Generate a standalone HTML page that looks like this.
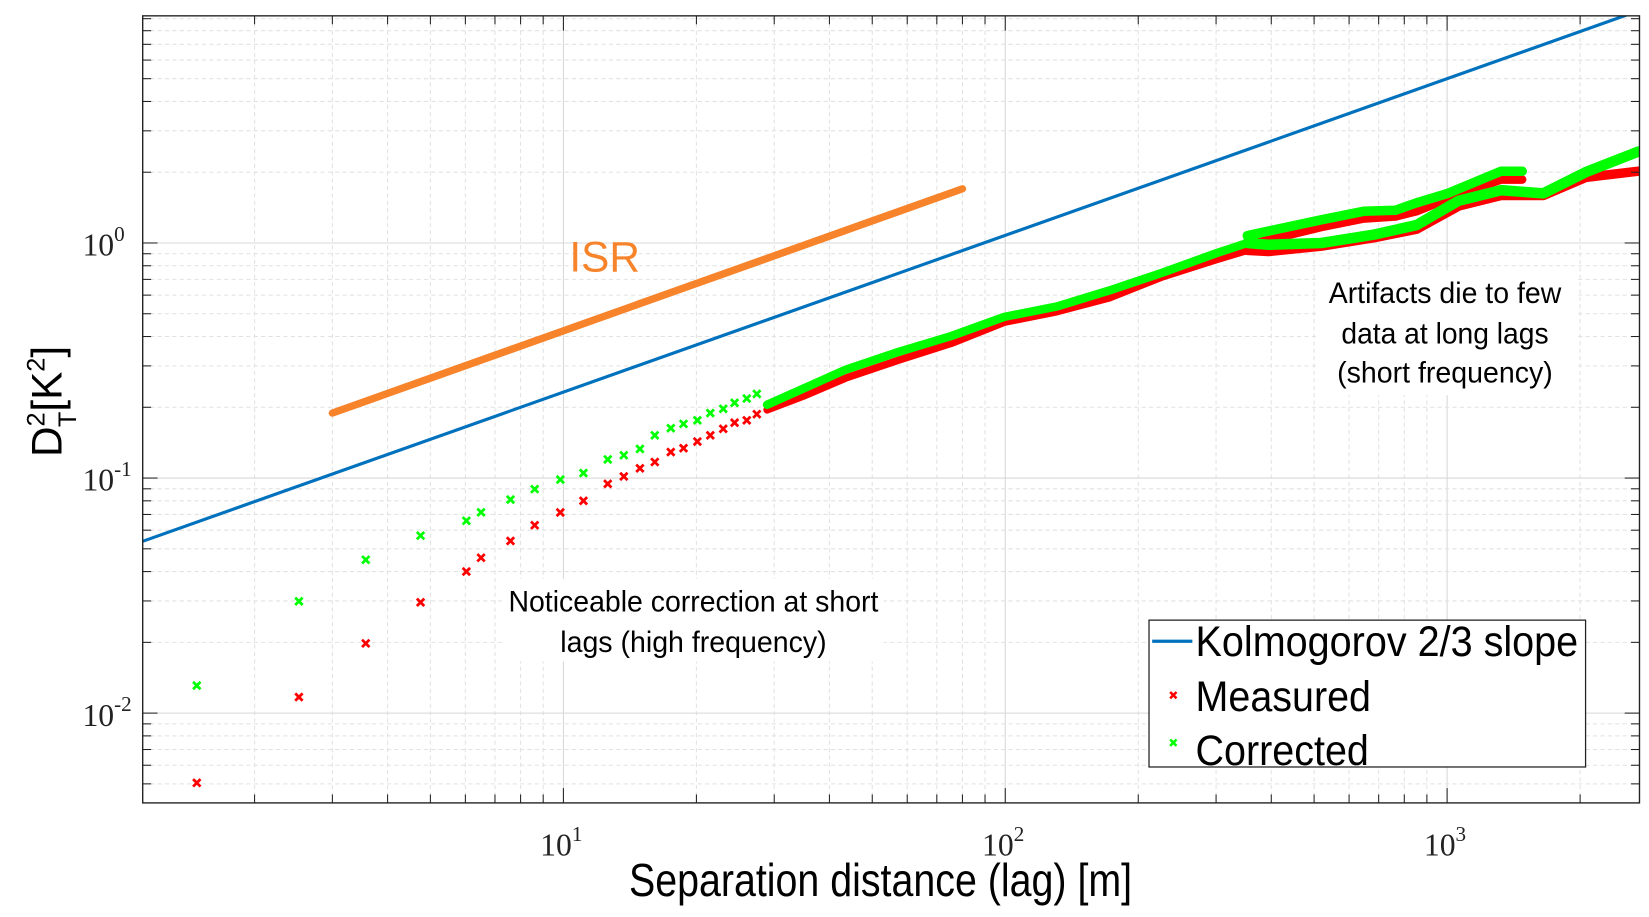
<!DOCTYPE html>
<html><head><meta charset="utf-8"><style>
html,body{margin:0;padding:0;background:#fff;}
svg{display:block;}
text{font-family:"Liberation Sans",sans-serif;}
.serif{font-family:"Liberation Serif",serif;}
</style></head><body>
<svg id="chart" width="1649" height="917" viewBox="0 0 1560 868" preserveAspectRatio="none" xmlns="http://www.w3.org/2000/svg">
<rect x="0" y="0" width="1560" height="868" fill="#fff"/>
<g id="grid"></g>
<g id="marks"></g>
<g id="axes"></g>
<rect x="135" y="15" width="1416" height="745" fill="none" stroke="#222" stroke-width="1.3"/>
<text x="572" y="257" font-size="40" fill="#f7832a" text-anchor="middle">ISR</text>
<rect x="1245" y="256" width="245" height="118" fill="#fff"/>
<g font-size="28" text-anchor="middle" fill="#000">
<text x="1367" y="287" textLength="220" lengthAdjust="spacingAndGlyphs">Artifacts die to few</text>
<text x="1367" y="325" textLength="196" lengthAdjust="spacingAndGlyphs">data at long lags</text>
<text x="1367" y="362" textLength="204" lengthAdjust="spacingAndGlyphs">(short frequency)</text>
</g>
<rect x="476" y="548" width="360" height="78" fill="#fff"/>
<g font-size="28" text-anchor="middle" fill="#000">
<text x="656" y="579" textLength="350" lengthAdjust="spacingAndGlyphs">Noticeable correction at short</text>
<text x="656" y="617" textLength="252" lengthAdjust="spacingAndGlyphs">lags (high frequency)</text>
</g>
<g>
<rect x="1087" y="587" width="413" height="139" fill="#fff" stroke="#222" stroke-width="1.2"/>
<line x1="1090" y1="607" x2="1128" y2="607" stroke="#0072bd" stroke-width="3"/>
<text x="1131" y="621" font-size="40" textLength="362" lengthAdjust="spacingAndGlyphs">Kolmogorov 2/3 slope</text>
<path d="M1107,655L1113,661M1113,655L1107,661" stroke="#ff0000" stroke-width="2.4"/>
<text x="1131" y="673" font-size="40" textLength="166" lengthAdjust="spacingAndGlyphs">Measured</text>
<path d="M1107,700L1113,706M1113,700L1107,706" stroke="#00ff00" stroke-width="2.4"/>
<text x="1131" y="724" font-size="40" textLength="164" lengthAdjust="spacingAndGlyphs">Corrected</text>
</g>
<text x="833" y="848" font-size="44" text-anchor="middle" textLength="476" lengthAdjust="spacingAndGlyphs">Separation distance (lag) [m]</text>
<g transform="translate(58,380) rotate(-90)">
<text x="0" y="0" font-size="40" text-anchor="middle">D<tspan font-size="24" dy="-16">2</tspan><tspan font-size="24" dx="-14" dy="30">T</tspan><tspan dy="-14">[K</tspan><tspan font-size="24" dy="-16">2</tspan><tspan dy="16">]</tspan></text>
</g>
</svg>
<script>
// ---- data ----
const xTickValues = [10, 100, 1000];
const xTickLabels = ["1", "2", "3"];
const yTickValues = [1, 0.1, 0.01];
const yTickLabels = ["0", "-1", "-2"];
const kolmogorovCoef = 0.05;
const isrLags = [3, 80];
const isrValues = [0.189, 1.70];
const sparseLags = [1.48,2.52,3.57,4.75,6.03,6.51,7.59,8.61,9.84,11.1,12.6,13.7,14.9,16.1,17.5,18.7,20.1,21.5,23.0,24.4,26.0,27.4];
const measuredSparse = [0.00505,0.0117,0.0198,0.0296,0.040,0.0458,0.054,0.063,0.0714,0.080,0.0945,0.1016,0.110,0.117,0.129,0.134,0.143,0.152,0.162,0.172,0.176,0.187];
const correctedSparse = [0.0131,0.0299,0.0449,0.0569,0.0658,0.0715,0.081,0.0897,0.0985,0.105,0.120,0.125,0.133,0.152,0.163,0.170,0.176,0.189,0.197,0.209,0.218,0.228];
const denseLags = [28.9,34.9,43.5,57.3,75.5,99.5,131,172,227,299,353];
const measuredDense = [0.195,0.223,0.266,0.317,0.374,0.460,0.510,0.584,0.718,0.847,0.930];
const correctedDense = [0.205,0.240,0.289,0.344,0.402,0.485,0.537,0.628,0.748,0.902,1.0];
const lowerLags = [353,394,519,684,853,1062,1324,1651,2058,2710];
const measuredLower = [0.93,0.920,0.969,1.053,1.144,1.436,1.593,1.593,1.90,2.02];
const correctedLower = [1.0,0.983,1.0,1.086,1.192,1.513,1.677,1.626,2.0,2.45];
const upperLags = [353,519,647,764,853,1005,1324,1479];
const measuredUpper = [0.98,1.168,1.269,1.295,1.364,1.545,1.86,1.86];
const correctedUpper = [1.075,1.255,1.364,1.378,1.482,1.627,2.02,2.02];

// ---- axes ----
const X0 = 135, X1 = 1551, Y0 = 15, Y1 = 760;
function xs(v){ return 533 + 418*(Math.log10(v) - 1); }
function ys(v){ return 230 - 222.5*Math.log10(v); }
const NS = "http://www.w3.org/2000/svg";
function mk(tag, attrs, parent){ const e=document.createElementNS(NS,tag); for(const k in attrs) e.setAttribute(k,attrs[k]); parent.appendChild(e); return e; }
const grid = document.getElementById('grid');
const axes = document.getElementById('axes');
const marks = document.getElementById('marks');

for (let d = 0; d <= 3; d++) {
  for (let m = 1; m <= 9; m++) {
    const v = m*Math.pow(10,d); const x = xs(v);
    if (x <= X0+1 || x >= X1) continue;
    const gl = mk('line',{x1:x,y1:Y0,x2:x,y2:Y1,stroke:m===1?'#d8d8d8':'#e2e2e2','stroke-width':1,'stroke-dasharray':m===1?'':'4,3'},grid);
    
    
    const t1 = mk('line',{x1:x,y1:Y1,x2:x,y2:Y1-(m===1?14:8),stroke:'#222','stroke-width':1},axes);
    
    
    mk('line',{x1:x,y1:Y0,x2:x,y2:Y0+(m===1?14:8),stroke:'#222','stroke-width':1},axes);
  }
}
for (let d = -3; d <= 0; d++) {
  for (let m = 1; m <= 9; m++) {
    const v = m*Math.pow(10,d); const y = ys(v);
    if (y <= Y0 || y >= Y1) continue;
    const gl = mk('line',{x1:X0,y1:y,x2:X1,y2:y,stroke:m===1?'#d8d8d8':'#e2e2e2','stroke-width':1,'stroke-dasharray':m===1?'':'4,3'},grid);
    
    
    const t1 = mk('line',{x1:X0,y1:y,x2:X0+(m===1?14:8),y2:y,stroke:'#222','stroke-width':1},axes);
    
    
    mk('line',{x1:X1,y1:y,x2:X1-(m===1?14:8),y2:y,stroke:'#222','stroke-width':1},axes);
  }
}
xTickValues.forEach((v,i)=>{
  const t = mk('text',{x:xs(v)-2,y:810,'font-size':30,'text-anchor':'middle','class':'serif',fill:'#222'},axes);
  
  
  t.innerHTML = '10<tspan font-size="20" dy="-14">'+xTickLabels[i]+'</tspan>';
});
yTickValues.forEach((v,i)=>{
  const t = mk('text',{x:78,y:ys(v)+12,'font-size':30,'class':'serif',fill:'#222'},axes);
  
  
  t.innerHTML = '10<tspan font-size="20" dy="-14">'+yTickLabels[i]+'</tspan>';
});

const clip = mk('clipPath',{id:'pc'},document.getElementById('chart'));
mk('rect',{x:X0,y:Y0,width:X1-X0,height:Y1-Y0},clip);
marks.setAttribute('clip-path','url(#pc)');

// Kolmogorov line
const kx0 = Math.pow(10, 1 + (X0-533)/418);
const kx1 = Math.pow(10, 1 + (X1-533)/418);
const kl = mk('polyline',{points:[kx0,kx1].map(v=>{let val=kolmogorovCoef*Math.pow(v,2/3);return xs(v)+','+ys(val);}).join(' '),fill:'none',stroke:'#0072bd','stroke-width':3},marks);



// ISR line
const isr = mk('polyline',{points:isrLags.map((v,i)=>xs(v)+','+ys(isrValues[i])).join(' '),fill:'none',stroke:'#f7832a','stroke-width':7,'stroke-linecap':'round'},marks);



function band(lags, vals, color, name, w){
  const p = mk('polyline',{points:lags.map((v,i)=>xs(v)+','+ys(vals[i])).join(' '),fill:'none',stroke:color,'stroke-width':w,'stroke-linejoin':'round','stroke-linecap':'round'},marks);
  
  
}
function pts(lags, vals, color, name){
  lags.forEach((v,i)=>{
    const x=xs(v), y=ys(vals[i]);
    const c = mk('path',{d:`M${x-3.5},${y-3.5}L${x+3.5},${y+3.5}M${x+3.5},${y-3.5}L${x-3.5},${y+3.5}`,stroke:color,'stroke-width':2.6},marks);
    
    
  });
}
band(denseLags, measuredDense, '#ff0000','measured-band',7);
band(lowerLags, measuredLower, '#ff0000','measured-lower-branch',9);
band(upperLags, measuredUpper, '#ff0000','measured-upper-branch',8);
band(denseLags, correctedDense, '#00ff00','corrected-band',8);
band(lowerLags, correctedLower, '#00ff00','corrected-lower-branch',10);
band(upperLags, correctedUpper, '#00ff00','corrected-upper-branch',9);
pts(sparseLags, measuredSparse, '#ff0000','measured-point');
pts(sparseLags, correctedSparse, '#00ff00','corrected-point');
</script>
</body></html>
